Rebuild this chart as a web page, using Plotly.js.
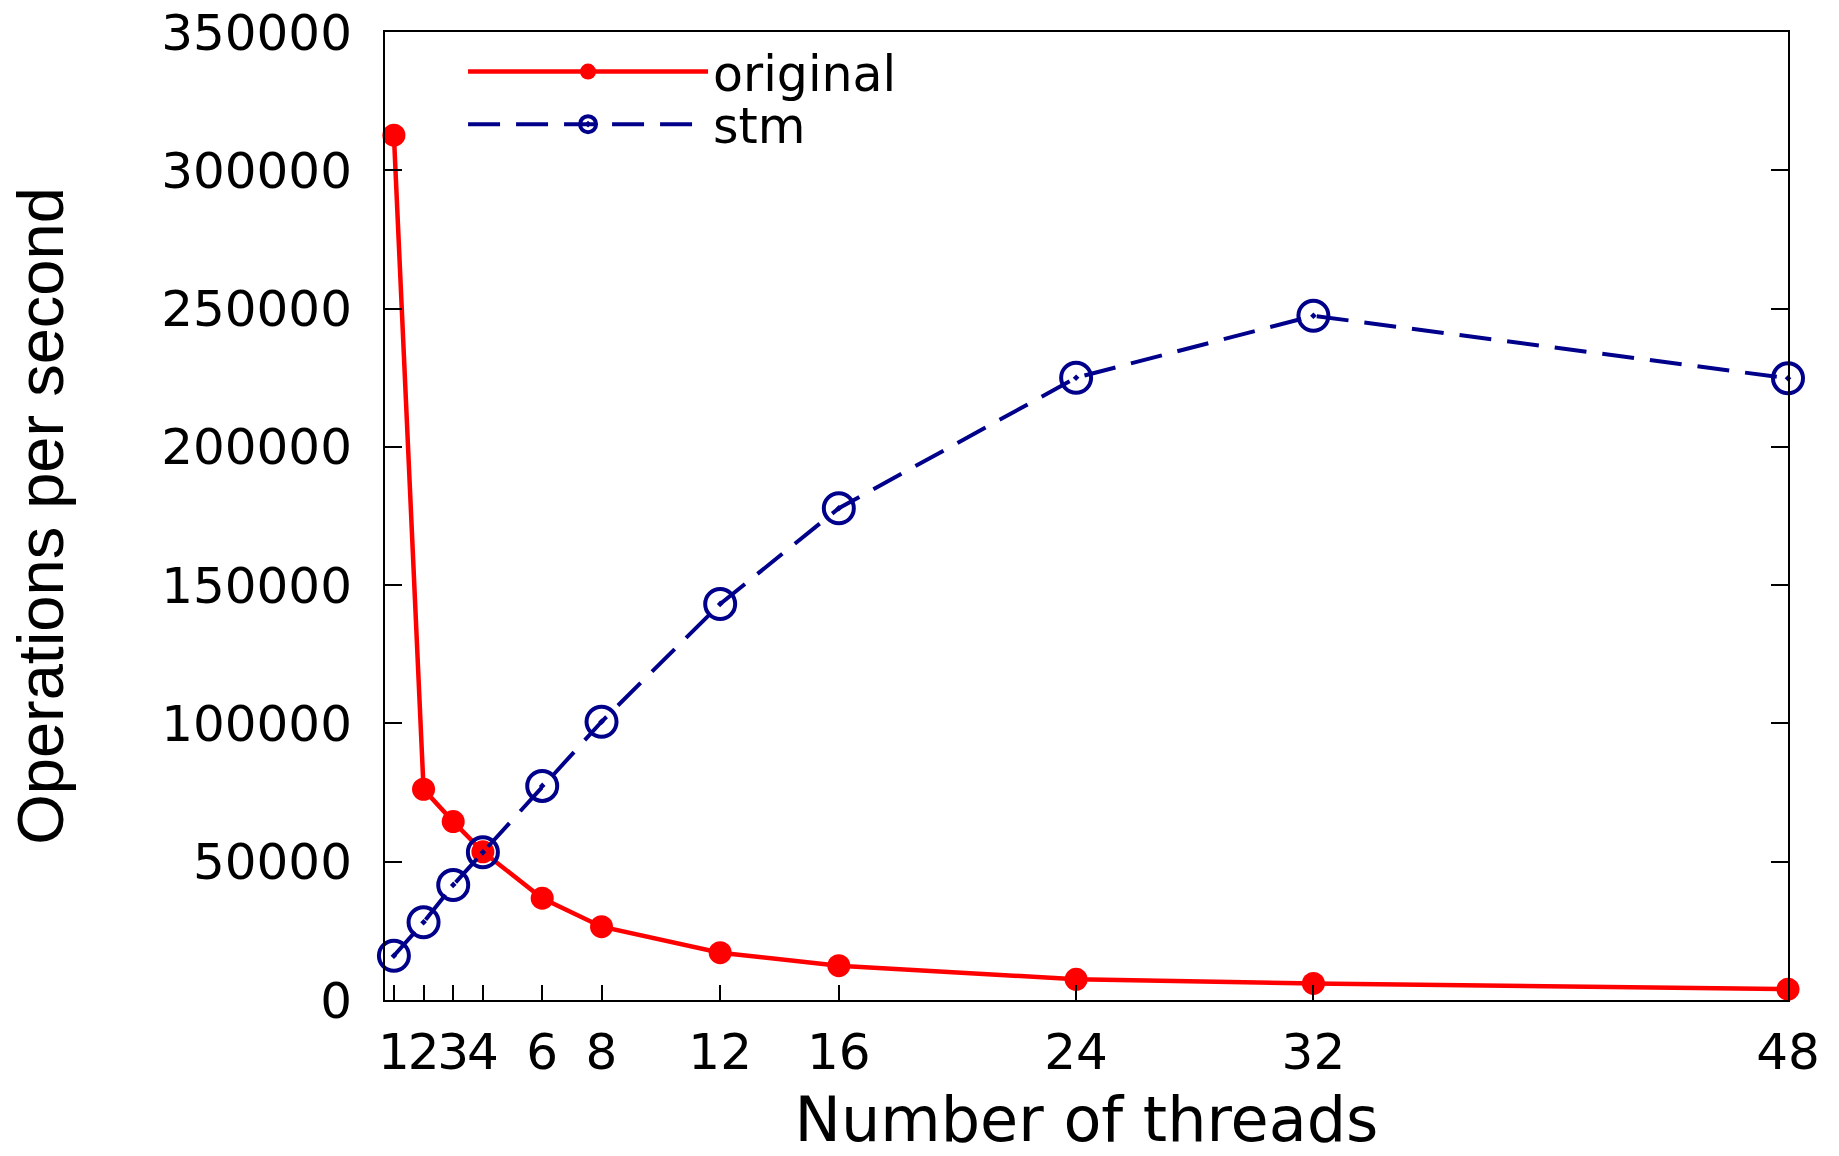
<!DOCTYPE html>
<html>
<head>
<meta charset="utf-8">
<script src="https://cdn.plot.ly/plotly-3.0.1.min.js"></script>
<style>
html, body { margin: 0; padding: 0; background: #ffffff; }
#chart { width: 1839px; height: 1156px; }
</style>
</head>
<body>
<div id="chart"></div>
<script>
// Data
var threads = [1, 2, 3, 4, 6, 8, 12, 16, 24, 32, 48];
var original = [312700, 76200, 64500, 53600, 36800, 26500, 17100, 12400, 7500, 6000, 3900];
var stm = [16000, 28100, 41600, 53400, 77400, 100600, 143200, 177800, 225000, 247400, 224800];
var xTickVals = [1, 2, 3, 4, 6, 8, 12, 16, 24, 32, 48];
var yTickVals = [0, 50000, 100000, 150000, 200000, 250000, 300000, 350000];
var seriesNames = ["original", "stm"];

var tickFont = { family: "DejaVu Sans", size: 50, color: "#000000" };

var traces = [
  {
    x: threads, y: original, name: seriesNames[0], type: "scatter", mode: "lines+markers",
    line: { color: "#ff0000", width: 4.5 },
    marker: { symbol: "circle", size: 23, color: "#ff0000" },
    cliponaxis: false,
    legend: "legend"
  },
  {
    x: threads, y: stm, name: seriesNames[1], type: "scatter", mode: "lines+markers",
    line: { color: "#00008b", width: 4, dash: "32px,16px" },
    marker: { symbol: "circle-open-dot", size: 30, color: "#00008b", line: { color: "#00008b", width: 4 } },
    cliponaxis: false,
    legend: "legend2"
  }
];

var legendCommon = {
  bgcolor: "rgba(0,0,0,0)", borderwidth: 0,
  font: { family: "DejaVu Sans", size: 49, color: "#000000" },
  itemwidth: 240, xanchor: "left", yanchor: "middle", itemsizing: "trace"
};

var layout = {
  width: 1839, height: 1156,
  paper_bgcolor: "#ffffff", plot_bgcolor: "#ffffff",
  margin: { l: 385, r: 51, t: 32, b: 156, pad: 0 },
  showlegend: true,
  xaxis: {
    range: [0.7, 48], tickmode: "array", tickvals: xTickVals,
    ticktext: xTickVals.map(String),
    ticks: "inside", ticklen: 15, tickwidth: 2, tickcolor: "#000000",
    showline: true, linecolor: "#000000", linewidth: 2, mirror: true,
    showgrid: false, zeroline: false, tickangle: 0,
    tickfont: tickFont, ticklabelstandoff: 7,
    title: { text: "Number of threads", font: { family: "DejaVu Sans", size: 62, color: "#000000" }, standoff: 47 },
    automargin: false
  },
  yaxis: {
    range: [0, 350000], tickmode: "array", tickvals: yTickVals,
    ticktext: yTickVals.map(String),
    ticks: "inside", ticklen: 17, tickwidth: 2, tickcolor: "#000000",
    showline: true, linecolor: "#000000", linewidth: 2, mirror: "ticks",
    showgrid: false, zeroline: false,
    tickfont: tickFont, ticklabelstandoff: 21,
    title: { text: "Operations per second", font: { family: "Liberation Sans", size: 65, color: "#000000" }, standoff: 76 },
    automargin: false
  },
  legend: Object.assign({}, legendCommon, { x: (463 - 385) / 1402, y: (1000 - 71.7) / 968 }),
  legend2: Object.assign({}, legendCommon, { x: (463 - 385) / 1402, y: (1000 - 124.3) / 968 })
};

Plotly.newPlot("chart", traces, layout, { staticPlot: true, displayModeBar: false });
</script>
</body>
</html>
